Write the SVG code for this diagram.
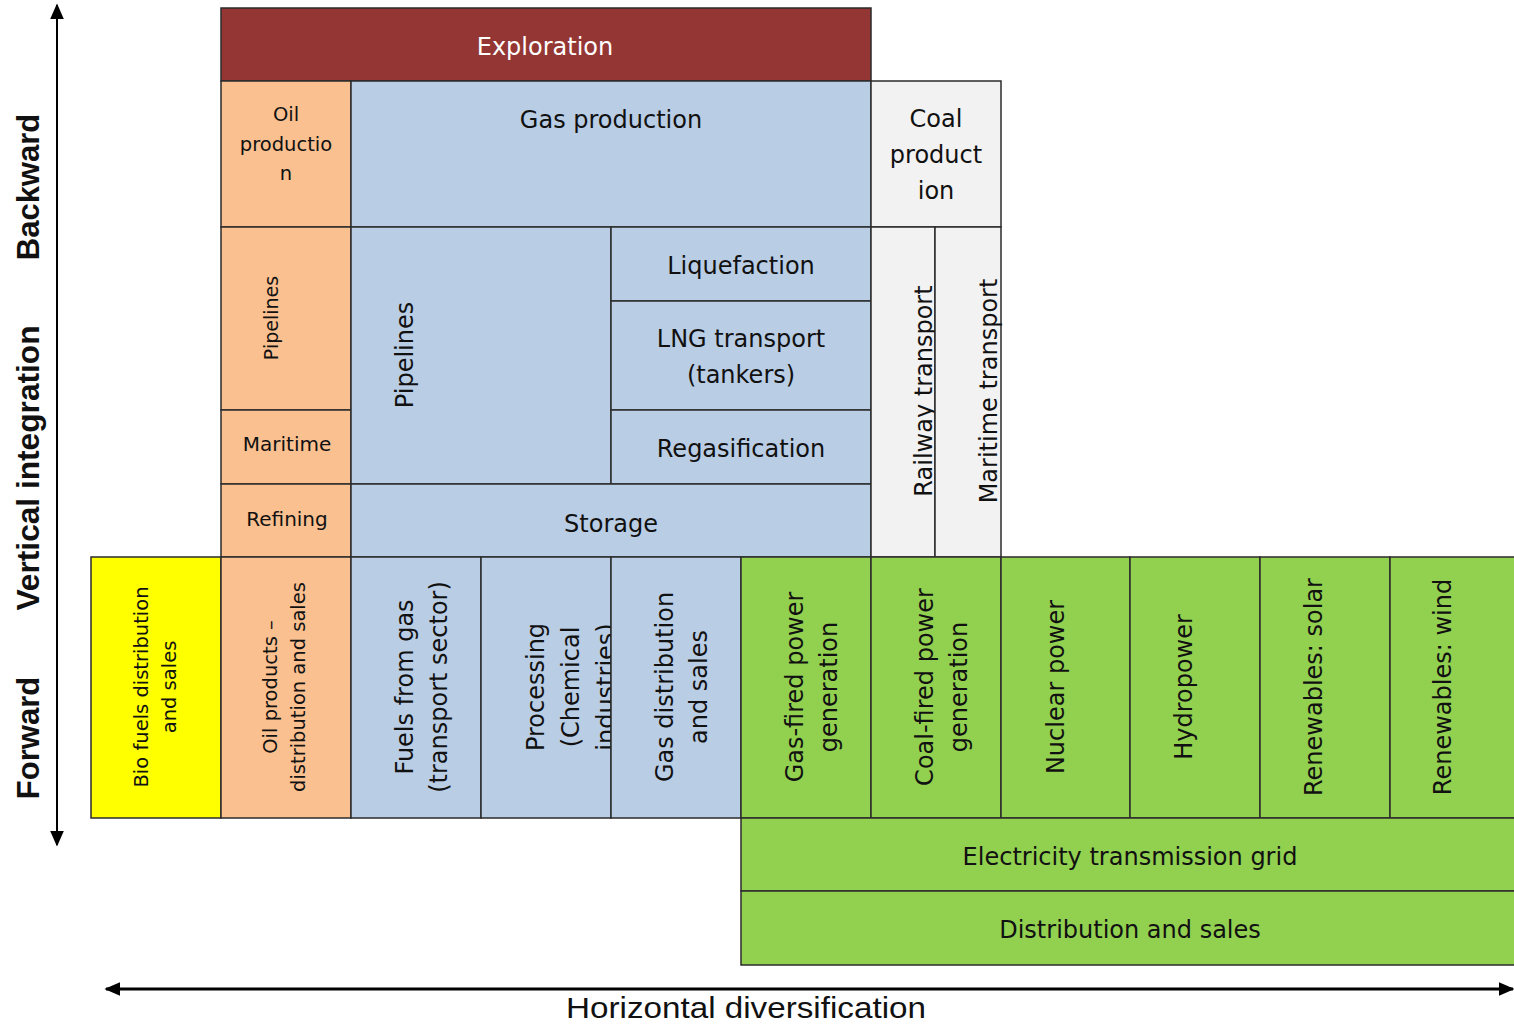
<svg xmlns="http://www.w3.org/2000/svg" width="1514" height="1024" viewBox="0 0 1514 1024">
<style>
  .c{stroke:#2b2b2b;stroke-width:1.5}
  .red{fill:#943634}.peach{fill:#FAC090}.blue{fill:#B9CDE5}.grey{fill:#F2F2F2}.yel{fill:#FFFF00}.green{fill:#92D050}
  text{font-family:"DejaVu Sans","Open Sans",sans-serif;fill:#111;text-anchor:middle;dominant-baseline:central}
  .s18{font-size:19.5px}.s19{font-size:19px}.s20{font-size:20px}.s22{font-size:24px}
  .ax{font-family:"Liberation Sans",Arial,sans-serif;font-weight:bold;font-size:31px}
  .hd{font-family:"Liberation Sans",Arial,sans-serif;font-size:30px}
</style>
<defs>
  <marker id="ah" viewBox="0 0 10 10" refX="9" refY="5" markerWidth="16" markerHeight="14" orient="auto-start-reverse" markerUnits="userSpaceOnUse" preserveAspectRatio="none">
    <path d="M0,0 L10,5 L0,10 z" fill="#000"/>
  </marker>
  <clipPath id="clipProc"><rect x="481" y="557" width="130" height="261"/></clipPath>
</defs>

<g id="connectors">
  <line x1="57" y1="845" x2="57" y2="5" stroke="#000" stroke-width="2" marker-end="url(#ah)" marker-start="url(#ah)"/>
  <line x1="106" y1="989" x2="1513" y2="989" stroke="#000" stroke-width="3" marker-end="url(#ah)" marker-start="url(#ah)"/>
</g>

<g id="axis-labels">
  <text class="ax" transform="translate(28,187) rotate(-90)">Backward</text>
  <text class="ax" transform="translate(28,468) rotate(-90)" textLength="285" lengthAdjust="spacingAndGlyphs">Vertical integration</text>
  <text class="ax" transform="translate(28,738) rotate(-90)">Forward</text>
  <text class="hd" x="746" y="1007" textLength="360" lengthAdjust="spacingAndGlyphs">Horizontal diversification</text>
</g>

<g id="exploration"><rect class="c red" x="221" y="8" width="650" height="73"/><text class="s22" x="545" y="47" style="fill:#fff">Exploration</text></g>
<g id="oil-production"><rect class="c peach" x="221" y="81" width="130" height="146"/><text class="s18" x="286" y="114">Oil</text><text class="s18" x="286" y="144">productio</text><text class="s18" x="286" y="173">n</text></g>
<g id="gas-production"><rect class="c blue" x="351" y="81" width="520" height="146"/><text class="s22" x="611" y="120">Gas production</text></g>
<g id="coal-production"><rect class="c grey" x="871" y="81" width="130" height="146"/><text class="s22" x="936" y="119">Coal</text><text class="s22" x="936" y="155">product</text><text class="s22" x="936" y="191">ion</text></g>

<g id="oil-pipelines"><rect class="c peach" x="221" y="227" width="130" height="183"/><text class="s19" transform="translate(271,318) rotate(-90)">Pipelines</text></g>
<g id="oil-maritime"><rect class="c peach" x="221" y="410" width="130" height="74"/><text class="s20" x="287" y="444">Maritime</text></g>
<g id="refining"><rect class="c peach" x="221" y="484" width="130" height="73"/><text class="s20" x="287" y="519">Refining</text></g>

<g id="gas-pipelines"><rect class="c blue" x="351" y="227" width="260" height="257"/><text class="s22" transform="translate(405,355) rotate(-90)">Pipelines</text></g>
<g id="liquefaction"><rect class="c blue" x="611" y="227" width="260" height="74"/><text class="s22" x="741" y="266">Liquefaction</text></g>
<g id="lng-transport"><rect class="c blue" x="611" y="301" width="260" height="109"/><text class="s22" x="741" y="339">LNG transport</text><text class="s22" x="741" y="375">(tankers)</text></g>
<g id="regasification"><rect class="c blue" x="611" y="410" width="260" height="74"/><text class="s22" x="741" y="449">Regasification</text></g>
<g id="storage"><rect class="c blue" x="351" y="484" width="520" height="73"/><text class="s22" x="611" y="524">Storage</text></g>

<g id="railway-transport"><rect class="c grey" x="871" y="227" width="64" height="330"/><text class="s22" transform="translate(924,391) rotate(-90)">Railway transport</text></g>
<g id="maritime-transport"><rect class="c grey" x="935" y="227" width="66" height="330"/><text class="s22" transform="translate(989,391) rotate(-90)">Maritime transport</text></g>

<g id="bio-fuels"><rect class="c yel" x="91" y="557" width="130" height="261"/><text class="s18" transform="translate(155,687) rotate(-90)"><tspan x="0" y="-14">Bio fuels distribution</tspan><tspan x="0" y="14">and sales</tspan></text></g>
<g id="oil-products"><rect class="c peach" x="221" y="557" width="130" height="261"/><text class="s18" transform="translate(284,687) rotate(-90)"><tspan x="0" y="-14">Oil products –</tspan><tspan x="0" y="14">distribution and sales</tspan></text></g>
<g id="fuels-from-gas"><rect class="c blue" x="351" y="557" width="130" height="261"/><text class="s22" transform="translate(422,687) rotate(-90)"><tspan x="0" y="-17">Fuels from gas</tspan><tspan x="0" y="17">(transport sector)</tspan></text></g>
<g id="processing"><rect class="c blue" x="481" y="557" width="130" height="261"/><g clip-path="url(#clipProc)"><text class="s22" transform="translate(571,687) rotate(-90)"><tspan x="0" y="-35">Processing</tspan><tspan x="0" y="0">(Chemical</tspan><tspan x="0" y="35">industries)</tspan></text></g></g>
<g id="gas-distribution"><rect class="c blue" x="611" y="557" width="130" height="261"/><text class="s22" transform="translate(682,687) rotate(-90)"><tspan x="0" y="-17">Gas distribution</tspan><tspan x="0" y="17">and sales</tspan></text></g>

<g id="gas-fired"><rect class="c green" x="741" y="557" width="130" height="261"/><text class="s22" transform="translate(812,687) rotate(-90)"><tspan x="0" y="-17">Gas-fired power</tspan><tspan x="0" y="17">generation</tspan></text></g>
<g id="coal-fired"><rect class="c green" x="871" y="557" width="130" height="261"/><text class="s22" transform="translate(942,687) rotate(-90)"><tspan x="0" y="-17">Coal-fired power</tspan><tspan x="0" y="17">generation</tspan></text></g>
<g id="nuclear"><rect class="c green" x="1001" y="557" width="129" height="261"/><text class="s22" transform="translate(1056,687) rotate(-90)">Nuclear power</text></g>
<g id="hydropower"><rect class="c green" x="1130" y="557" width="130" height="261"/><text class="s22" transform="translate(1184,687) rotate(-90)">Hydropower</text></g>
<g id="solar"><rect class="c green" x="1260" y="557" width="130" height="261"/><text class="s22" transform="translate(1314,687) rotate(-90)">Renewables: solar</text></g>
<g id="wind"><rect class="c green" x="1390" y="557" width="126" height="261"/><text class="s22" transform="translate(1443,687) rotate(-90)">Renewables: wind</text></g>

<g id="transmission-grid"><rect class="c green" x="741" y="818" width="775" height="73"/><text class="s22" x="1130" y="857">Electricity transmission grid</text></g>
<g id="distribution-sales"><rect class="c green" x="741" y="891" width="775" height="74"/><text class="s22" x="1130" y="930">Distribution and sales</text></g>
</svg>
